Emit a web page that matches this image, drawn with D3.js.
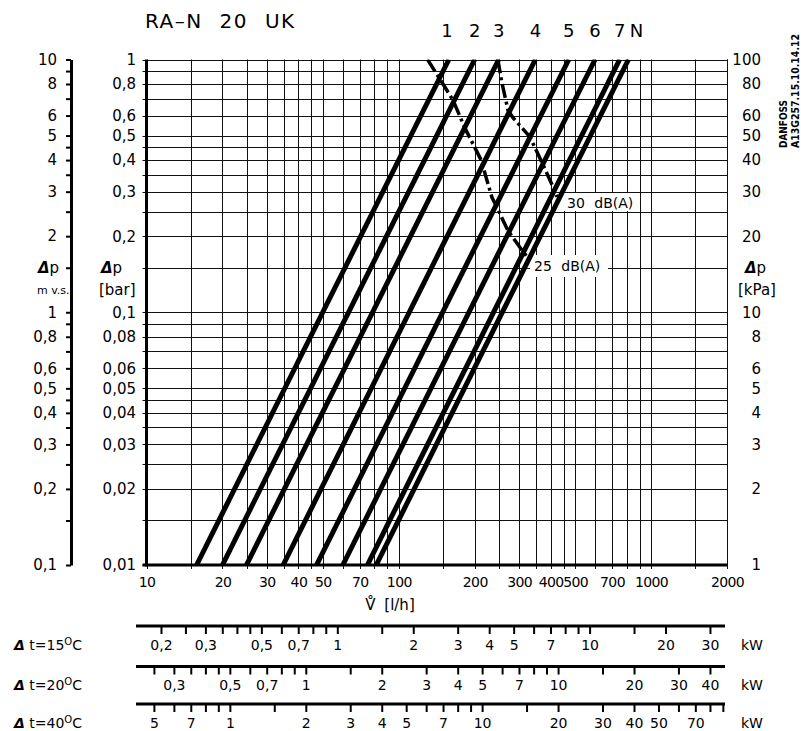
<!DOCTYPE html>
<html>
<head>
<meta charset="utf-8">
<script src="https://cdn.jsdelivr.net/npm/d3@7"></script>
<style>
body { margin: 0; background: #fff; }
svg { font-family: "DejaVu Sans", sans-serif; }
</style>
</head>
<body>
<script>
// preset lines: flow [l/h] at dp = 1 bar (flow ~ sqrt(dp))
var presets = ["1", "2", "3", "4", "5", "6", "7", "N"];
var flowAt1bar = [158, 200, 249, 348, 472, 600, 751, 814];

// noise limit curves (flow l/h, dp bar)
var noise25Flow = [130, 148, 164, 183, 212, 234, 245, 271, 308, 325];
var noise25Dp = [1, 0.815, 0.69, 0.535, 0.40, 0.285, 0.26, 0.21, 0.176, 0.164];
var noise30Flow = [247, 256, 271, 284, 331, 370, 409, 424];
var noise30Dp = [1, 0.815, 0.63, 0.587, 0.494, 0.39, 0.313, 0.286];

var gridMant = [1, 1.5, 2, 2.5, 3, 3.5, 4, 4.5, 5, 6, 7, 8, 9];
var flowLabels = [10, 20, 30, 40, 50, 70, 100, 200, 300, 400, 500, 700, 1000, 2000];
var barLabels = [1, 0.8, 0.6, 0.5, 0.4, 0.3, 0.2, 0.1, 0.08, 0.06, 0.05, 0.04, 0.03, 0.02, 0.01];
var mvsLabels = [10, 8, 6, 5, 4, 3, 2, 1, 0.8, 0.6, 0.5, 0.4, 0.3, 0.2, 0.1];
var kpaLabels = [100, 80, 60, 50, 40, 30, 20, 10, 8, 6, 5, 4, 3, 2, 1];

// heat output scales
var dtRows = [15, 20, 40];
var kwTicks15 = [0.2, 0.25, 0.3, 0.35, 0.4, 0.45, 0.5, 0.6, 0.7, 0.8, 0.9, 1, 1.5, 2, 3, 4, 5, 6, 7, 8, 9, 10, 15, 20, 30];
var kwLabels15 = [0.2, 0.3, 0.5, 0.7, 1, 2, 3, 4, 5, 7, 10, 20, 30];
var kwText15 = ["0,2", "0,3", "0,5", "0,7", "1", "2", "3", "4", "5", "7", "10", "20", "30"];
var kwTicks20 = [0.25, 0.3, 0.35, 0.4, 0.45, 0.5, 0.6, 0.7, 0.8, 0.9, 1, 1.5, 2, 3, 4, 5, 6, 7, 8, 9, 10, 15, 20, 30, 40];
var kwLabels20 = [0.3, 0.5, 0.7, 1, 2, 3, 4, 5, 7, 10, 20, 30, 40];
var kwText20 = ["0,3", "0,5", "0,7", "1", "2", "3", "4", "5", "7", "10", "20", "30", "40"];
var kwTicks40 = [0.5, 0.6, 0.7, 0.8, 0.9, 1, 1.5, 2, 3, 4, 5, 6, 7, 8, 9, 10, 15, 20, 30, 40, 50, 60, 70, 80, 90];
var kwLabels40 = [0.5, 0.7, 1, 2, 3, 4, 5, 7, 10, 20, 30, 40, 50, 70];
var kwText40 = ["5", "7", "1", "2", "3", "4", "5", "7", "10", "20", "30", "40", "50", "70"];

var W = 801, H = 731;
var pLeft = 146.5, pRight = 727, pTop = 59.5, pBottom = 565;

var svg = d3.select("body").append("svg").attr("width", W).attr("height", H);

var x = d3.scaleLog().domain([10, 2000]).range([pLeft, pRight]);
var y = d3.scaleLog().domain([0.01, 1]).range([pBottom, pTop]);
var yM = d3.scaleLog().domain([0.1, 10]).range([pBottom, pTop]);
var yK = d3.scaleLog().domain([1, 100]).range([pBottom, pTop]);

function comma(v) { return String(v).replace(".", ","); }

var xGrid = [];
[10, 100, 1000].forEach(function (d) {
	gridMant.forEach(function (m) { if (d * m <= 2000) xGrid.push(d * m); });
});
xGrid.push(2000);
var yGrid = [];
[0.01, 0.1].forEach(function (d) {
	gridMant.forEach(function (m) { yGrid.push(+(d * m).toFixed(4)); });
});
yGrid.push(1);

// title
svg.append("text").attr("x", 145).attr("y", 28).attr("font-size", 20)
	.attr("letter-spacing", 1.5).attr("word-spacing", 9)
	.text("RA\u2013N 20 UK");

// grid
var grid = svg.append("g").attr("stroke", "#111").attr("stroke-width", 1);
grid.selectAll("line.v").data(xGrid).enter().append("line").attr("class", "v")
	.attr("x1", function (d) { return Math.round(x(d)) + 0.5; })
	.attr("x2", function (d) { return Math.round(x(d)) + 0.5; })
	.attr("y1", pTop).attr("y2", pBottom + 4);
grid.selectAll("line.h").data(yGrid).enter().append("line").attr("class", "h")
	.attr("y1", function (d) { return Math.round(y(d)) + 0.5; })
	.attr("y2", function (d) { return Math.round(y(d)) + 0.5; })
	.attr("x1", pLeft - 4).attr("x2", pRight);

// plot frame: thick left and bottom
svg.append("line").attr("x1", pLeft).attr("x2", pLeft).attr("y1", pTop).attr("y2", pBottom + 1.5)
	.attr("stroke", "#000").attr("stroke-width", 3);
svg.append("line").attr("x1", pLeft - 4).attr("x2", pRight).attr("y1", pBottom).attr("y2", pBottom)
	.attr("stroke", "#000").attr("stroke-width", 3);

// white boxes behind noise labels
svg.append("rect").attr("x", 561).attr("y", 193).attr("width", 79).attr("height", 18).attr("fill", "#fff");
svg.append("rect").attr("x", 530).attr("y", 255).attr("width", 78).attr("height", 22).attr("fill", "#fff");

// preset lines
svg.append("clipPath").attr("id", "plot").append("rect")
	.attr("x", pLeft).attr("y", pTop).attr("width", pRight - pLeft).attr("height", pBottom - pTop);

var plot = svg.append("g").attr("clip-path", "url(#plot)");
plot.selectAll("line.preset").data(flowAt1bar).enter().append("line").attr("class", "preset")
	.attr("x1", function (d) { return x(d * 0.1); })
	.attr("y1", y(0.01))
	.attr("x2", function (d) { return x(d); })
	.attr("y2", y(1))
	.attr("stroke", "#000").attr("stroke-width", 5);

var line = d3.line().x(function (d) { return x(d[0]); }).y(function (d) { return y(d[1]); });
var n25 = noise25Flow.map(function (f, i) { return [f, noise25Dp[i]]; });
var n30 = noise30Flow.map(function (f, i) { return [f, noise30Dp[i]]; });
plot.selectAll("path.noise").data([n25, n30]).enter().append("path").attr("class", "noise")
	.attr("d", line).attr("fill", "none").attr("stroke", "#000")
	.attr("stroke-width", 3.5).attr("stroke-dasharray", "14,4,3,4");

svg.append("text").attr("x", 567).attr("y", 208).attr("font-size", 14)
	.attr("word-spacing", 5).text("30 dB(A)");
svg.append("text").attr("x", 534).attr("y", 271).attr("font-size", 14)
	.attr("word-spacing", 5).text("25 dB(A)");

// preset labels on top
svg.selectAll("text.preset").data(presets).enter().append("text").attr("class", "preset")
	.attr("x", function (d, i) { return x(flowAt1bar[i]) + (d == "N" ? 8 : (d == "1" ? -2 : 0)); })
	.attr("y", 37).attr("font-size", 18).attr("text-anchor", "middle")
	.text(function (d) { return d; });

// flow axis labels
var xAxis = d3.axisBottom(x).tickValues(flowLabels).tickSize(0).tickPadding(12)
	.tickFormat(function (d) { return d; });
var gx = svg.append("g").attr("transform", "translate(0," + pBottom + ")").call(xAxis);
gx.select(".domain").remove();
gx.selectAll("text").attr("font-size", 14).attr("letter-spacing", -0.6)
	.attr("font-family", "DejaVu Sans").attr("fill", "#000");

svg.append("text").attr("x", 390).attr("y", 610).attr("font-size", 15).attr("text-anchor", "middle")
	.attr("word-spacing", 4).text("V\u030A [l/h]");

// bar axis (left of plot)
svg.selectAll("text.bar").data(barLabels).enter().append("text").attr("class", "bar")
	.attr("x", 136).attr("y", function (d) { return y(d); }).attr("dy", "0.36em")
	.attr("font-size", 15).attr("text-anchor", "end").text(comma);

// m v.s. axis
var mAxis = d3.axisLeft(yM).tickValues(yGrid.map(function (d) { return +(d * 10).toFixed(3); }))
	.tickSize(5).tickSizeOuter(0).tickPadding(9)
	.tickFormat(function (d) { return mvsLabels.indexOf(d) >= 0 ? comma(d) : ""; });
var gm = svg.append("g").attr("transform", "translate(71,0)").call(mAxis);
gm.select(".domain").attr("stroke-width", 3);
gm.selectAll(".tick line").attr("stroke-width", 2);
gm.selectAll("text").attr("font-size", 15).attr("font-family", "DejaVu Sans").attr("fill", "#000");

// kPa labels
svg.selectAll("text.kpa").data(kpaLabels).enter().append("text").attr("class", "kpa")
	.attr("x", 761).attr("y", function (d) { return yK(d); }).attr("dy", "0.36em")
	.attr("font-size", 15).attr("text-anchor", "end").text(comma);

// dp axis titles
function dpLabel(xp, unit, ux, fs) {
	var t = svg.append("text").attr("x", xp).attr("y", y(0.15)).attr("dy", "0.36em").attr("font-size", 15);
	t.append("tspan").attr("font-style", "italic").attr("font-weight", "bold").text("\u0394");
	t.append("tspan").text("p");
	svg.append("text").attr("x", ux).attr("y", y(0.15) + 22).attr("dy", "0.36em")
		.attr("font-size", fs).text(unit);
}
dpLabel(38, "m v.s.", 37, 11);
dpLabel(101, "[bar]", 99, 15);
dpLabel(745, "[kPa]", 738, 15);

// drawing number
svg.append("text").attr("transform", "translate(787,148) rotate(-90)")
	.attr("font-size", 10).attr("font-weight", "bold")
	.attr("textLength", 48).attr("lengthAdjust", "spacingAndGlyphs").text("DANFOSS");
svg.append("text").attr("transform", "translate(799,148) rotate(-90)")
	.attr("font-size", 10).attr("font-weight", "bold")
	.attr("textLength", 114).attr("lengthAdjust", "spacingAndGlyphs").text("A13G257.15.10.14.12");

// heat output rows
var rowY = [626, 666.5, 704];
var rowTicks = [kwTicks15, kwTicks20, kwTicks40];
var rowLabels = [kwLabels15, kwLabels20, kwLabels40];
var rowText = [kwText15, kwText20, kwText40];

dtRows.forEach(function (dt, r) {
	var f = 1.163 * dt / 1000;
	var q = d3.scaleLog().domain([10 * f, 2000 * f]).range([pLeft, pRight]);
	var g = svg.append("g").attr("transform", "translate(0," + rowY[r] + ")");
	g.append("line").attr("x1", 136).attr("x2", 725).attr("stroke", "#000").attr("stroke-width", 3);
	g.selectAll("line.t").data(rowTicks[r]).enter().append("line").attr("class", "t")
		.attr("x1", function (d) { return q(d); }).attr("x2", function (d) { return q(d); })
		.attr("y1", 0).attr("y2", 8).attr("stroke", "#000").attr("stroke-width", 2);
	g.selectAll("text.l").data(rowLabels[r]).enter().append("text").attr("class", "l")
		.attr("x", function (d) { return q(d); }).attr("y", 18.5).attr("dy", "0.36em")
		.attr("font-size", 14).attr("text-anchor", "middle")
		.text(function (d, i) { return rowText[r][i]; });
	g.append("text").attr("x", 741).attr("y", 18.5).attr("dy", "0.36em").attr("font-size", 14).text("kW");
	var lab = g.append("text").attr("x", 82).attr("y", 18.5).attr("dy", "0.36em")
		.attr("font-size", 14).attr("text-anchor", "end");
	lab.append("tspan").attr("font-style", "italic").attr("font-weight", "bold").text("\u0394");
	lab.append("tspan").text(" t=" + dt);
	lab.append("tspan").attr("font-size", 10).attr("dy", -5).text("O");
	lab.append("tspan").attr("dy", 5).text("C");
});
</script>
</body>
</html>
